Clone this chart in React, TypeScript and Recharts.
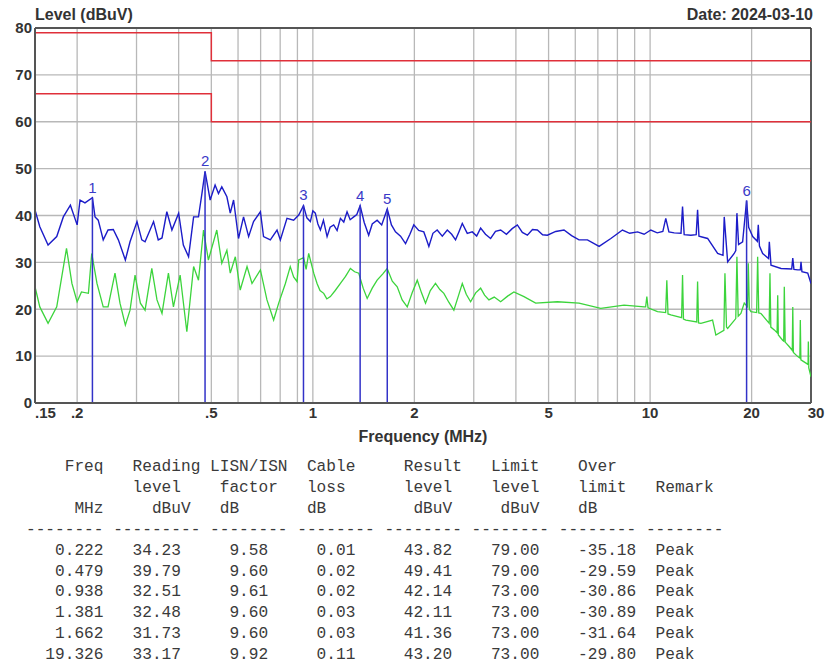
import React from "react";
import {
  CartesianGrid,
  ComposedChart,
  Line,
  ReferenceDot,
  ReferenceLine,
  XAxis,
  YAxis,
} from "recharts";

const SANS = '"Liberation Sans", Arial, sans-serif';
const MONO = '"Liberation Mono", "Courier New", monospace';

// axis setup
const xTicks = [0.15, 0.2, 0.5, 1, 2, 5, 10, 20, 30];
const xTickLabels = [".15", ".2", ".5", "1", "2", "5", "10", "20", "30"];
const gridFreqs = [0.2, 0.3, 0.4, 0.5, 0.6, 0.7, 0.8, 0.9, 1, 2, 3, 4, 5, 6, 7, 8, 9, 10, 20];
const yTicks = [0, 10, 20, 30, 40, 50, 60, 70, 80];

// limit lines (QP / AV)
const limitFreq = [0.15, 0.5, 0.5, 30];
const limitQp = [79, 79, 73, 73];
const limitAv = [66, 66, 60, 60];

// peak detector scan [MHz, dBuV]
const peakScan: [number, number][] = [
  [0.15, 41.2], [0.155, 37.6], [0.164, 33.7], [0.174, 35.5], [0.182, 39.7], [0.191, 42.2],
  [0.2, 38.0], [0.204, 43.3], [0.211, 42.7], [0.222, 43.8], [0.226, 39.7], [0.231, 39.0],
  [0.239, 34.8], [0.247, 36.9], [0.256, 37.0], [0.265, 34.8], [0.278, 30.5], [0.287, 34.4],
  [0.301, 38.7], [0.311, 34.8], [0.318, 34.4], [0.329, 36.9], [0.337, 38.7], [0.348, 34.8],
  [0.357, 35.2], [0.369, 40.8], [0.382, 36.9], [0.4, 40.5], [0.413, 33.7], [0.428, 31.2],
  [0.443, 39.7], [0.458, 39.7], [0.469, 44.7], [0.479, 49.4], [0.496, 43.3], [0.513, 46.5],
  [0.525, 44.7], [0.537, 46.1], [0.556, 44.0], [0.569, 40.5], [0.582, 43.3], [0.602, 35.1],
  [0.623, 39.7], [0.645, 35.5], [0.667, 38.7], [0.699, 40.8], [0.714, 35.5], [0.748, 34.8],
  [0.783, 36.9], [0.801, 34.8], [0.838, 39.4], [0.877, 39.0], [0.908, 40.1], [0.938, 42.1],
  [0.96, 39.5], [0.983, 38.7], [1.0, 41.0], [1.017, 40.5], [1.035, 38.2], [1.053, 36.9],
  [1.075, 39.0], [1.102, 35.5], [1.125, 37.5], [1.153, 38.0], [1.18, 36.8], [1.207, 39.4],
  [1.235, 38.6], [1.263, 40.8], [1.29, 39.1], [1.322, 39.7], [1.35, 40.2], [1.381, 42.1],
  [1.42, 38.5], [1.464, 35.8], [1.5, 38.2], [1.551, 39.0], [1.6, 38.0], [1.662, 41.4],
  [1.71, 38.0], [1.758, 36.5], [1.82, 35.6], [1.883, 34.0], [1.94, 36.0], [1.992, 38.0],
  [2.06, 36.8], [2.133, 36.5], [2.17, 35.0], [2.208, 33.4], [2.27, 36.2], [2.337, 36.9],
  [2.42, 35.6], [2.504, 36.9], [2.58, 36.0], [2.649, 34.8], [2.71, 36.5], [2.774, 38.3],
  [2.87, 36.2], [2.97, 36.5], [3.06, 35.6], [3.144, 37.3], [3.25, 36.0], [3.366, 35.1],
  [3.48, 36.6], [3.605, 36.9], [3.75, 36.0], [3.9, 37.2], [4.04, 38.0], [4.18, 36.4],
  [4.326, 35.8], [4.48, 37.0], [4.632, 36.9], [4.8, 35.9], [4.959, 35.8], [5.25, 36.6],
  [5.555, 36.9], [5.85, 35.7], [6.155, 34.8], [6.52, 34.8], [7.06, 33.4], [7.65, 35.1],
  [8.28, 36.9], [8.7, 36.2], [9.18, 36.5], [9.6, 36.0], [10.05, 36.9], [10.5, 36.3],
  [10.91, 36.6], [11.13, 39.4], [11.37, 36.5], [11.79, 36.3], [12.35, 36.2],
  [12.48, 41.9], [12.62, 35.9], [13.21, 35.8], [13.7, 35.9], [13.83, 41.2], [13.96, 35.6],
  [14.81, 35.1], [15.86, 31.9], [16.45, 31.5], [16.59, 39.7], [16.98, 30.1], [17.76, 31.9],
  [17.95, 32.5], [18.09, 40.5], [18.3, 33.8], [18.81, 34.4], [19.326, 43.2], [19.6, 37.5],
  [20.15, 35.5], [20.8, 34.5], [20.93, 38.0], [21.1, 33.5], [21.57, 31.9], [22.45, 30.8],
  [22.57, 34.4], [22.83, 29.4], [24.45, 28.7], [26.3, 28.6], [26.49, 30.9], [26.7, 28.5],
  [27.41, 28.4], [27.9, 28.4], [28.02, 30.1], [28.2, 28.0], [29.34, 27.7], [30, 25.5],
];

// average detector scan [MHz, dBuV]
const avgScan: [number, number][] = [
  [0.15, 24.8], [0.155, 20.5], [0.164, 17.0], [0.174, 20.5], [0.186, 33.0], [0.193, 25.5],
  [0.2, 21.6], [0.206, 23.7], [0.216, 23.4], [0.221, 31.9], [0.229, 25.5], [0.239, 20.5],
  [0.247, 20.5], [0.259, 27.7], [0.268, 21.3], [0.278, 16.6], [0.287, 19.8], [0.297, 27.3],
  [0.308, 21.3], [0.318, 19.8], [0.333, 28.7], [0.345, 22.0], [0.357, 19.1], [0.373, 27.7],
  [0.386, 20.5], [0.404, 27.3], [0.423, 15.2], [0.443, 29.1], [0.458, 26.2], [0.474, 36.9],
  [0.49, 30.5], [0.519, 36.9], [0.537, 29.8], [0.556, 32.6], [0.569, 27.7], [0.589, 31.2],
  [0.609, 24.1], [0.638, 29.1], [0.66, 25.5], [0.699, 28.4], [0.731, 22.0], [0.765, 17.7],
  [0.792, 21.3], [0.829, 25.5], [0.857, 29.1], [0.877, 26.9], [0.898, 25.9], [0.908, 30.5],
  [0.939, 31.0], [0.955, 28.5], [0.972, 31.9], [1.006, 27.7], [1.029, 25.5], [1.05, 24.0],
  [1.077, 23.4], [1.1, 22.2], [1.127, 22.7], [1.165, 24.0], [1.207, 25.5], [1.25, 27.0],
  [1.292, 28.7], [1.33, 28.0], [1.368, 27.7], [1.41, 24.5], [1.449, 22.3], [1.5, 24.5],
  [1.551, 26.2], [1.61, 27.5], [1.661, 28.7], [1.72, 26.0], [1.779, 24.8], [1.84, 22.0],
  [1.905, 20.5], [1.97, 23.5], [2.04, 26.2], [2.1, 23.5], [2.158, 21.3], [2.23, 24.0],
  [2.31, 25.5], [2.38, 24.2], [2.446, 23.4], [2.53, 21.5], [2.619, 19.8], [2.7, 22.8],
  [2.774, 25.5], [2.85, 23.2], [2.936, 21.6], [3.04, 23.5], [3.144, 24.5], [3.23, 23.0],
  [3.327, 22.0], [3.45, 22.6], [3.605, 21.6], [3.78, 22.8], [3.946, 23.7], [4.227, 22.7],
  [4.578, 21.3], [5.31, 21.6], [6.155, 21.3], [7.14, 20.2],
  [8.37, 20.9], [9.6, 20.5], [9.7, 20.5], [9.78, 22.7], [9.86, 20.3], [10.52, 19.5],
  [11.12, 19.3], [11.21, 26.2], [11.3, 19.0], [11.52, 18.8], [12.4, 18.2], [12.48, 27.3],
  [12.56, 17.9], [12.77, 17.7], [13.75, 17.3], [13.83, 25.9], [13.92, 17.1], [14.15, 17.0],
  [15.32, 17.7], [15.67, 14.5], [16.55, 15.5], [16.67, 27.7], [16.85, 16.2], [16.98, 15.9],
  [17.95, 18.0], [18.09, 31.2], [18.25, 18.5], [18.59, 19.1], [19.02, 21.3], [19.45, 20.5],
  [19.55, 29.8], [19.7, 20.0], [19.91, 19.5], [20.7, 19.3], [20.84, 31.2], [21.0, 19.2],
  [21.32, 19.1], [22.55, 17.0], [22.67, 27.7], [22.8, 16.2], [23.35, 15.6], [23.8, 15.0],
  [23.9, 23.0], [24.0, 14.5], [24.72, 13.4], [24.9, 13.2], [25.0, 24.8], [25.15, 13.0],
  [25.88, 12.0], [26.4, 11.2], [26.49, 20.5], [26.6, 10.8], [27.41, 9.9], [27.8, 9.6],
  [27.89, 17.7], [28.0, 9.2], [29.0, 8.5], [29.4, 8.2], [29.46, 13.1], [29.55, 7.5],
  [30, 5.6],
];

// marker table
const markFreq = ["0.222", "0.479", "0.938", "1.381", "1.662", "19.326"];
const markReading = ["34.23", "39.79", "32.51", "32.48", "31.73", "33.17"];
const markLisn = ["9.58", "9.60", "9.61", "9.60", "9.60", "9.92"];
const markCable = ["0.01", "0.02", "0.02", "0.03", "0.03", "0.11"];
const markResult = ["43.82", "49.41", "42.14", "42.11", "41.36", "43.20"];
const markLimit = ["79.00", "79.00", "73.00", "73.00", "73.00", "73.00"];
const markOver = ["-35.18", "-29.59", "-30.86", "-30.89", "-31.64", "-29.80"];
const markRemark = ["Peak", "Peak", "Peak", "Peak", "Peak", "Peak"];

const toPoints = (pts: [number, number][]) => pts.map(([f, v]) => ({ f, v }));
const qpData = limitFreq.map((f, i) => ({ f, v: limitQp[i] }));
const avData = limitFreq.map((f, i) => ({ f, v: limitAv[i] }));
const peakData = toPoints(peakScan);
const avgData = toPoints(avgScan);

// place strings at fixed monospace columns
function place(items: [number, string][]) {
  let s = "";
  for (const [col, text] of items) {
    s = s.padEnd(col, " ") + text;
  }
  return s;
}

const tableLines = [
  place([[4, "Freq"], [11, "Reading"], [19, "LISN/ISN"], [29, "Cable"], [39, "Result"], [48, "Limit"], [57, "Over"]]),
  place([[11, "level"], [20, "factor"], [29, "loss"], [39, "level"], [48, "level"], [57, "limit"], [65, "Remark"]]),
  place([[5, "MHz"], [13, "dBuV"], [20, "dB"], [29, "dB"], [40, "dBuV"], [49, "dBuV"], [57, "dB"]]),
  "-------- --------- -------- -------- -------- -------- -------- --------",
  ...markFreq.map((f, i) =>
    place([
      [0, f.padStart(8, " ")],
      [11, markReading[i]],
      [21, markLisn[i]],
      [30, markCable[i]],
      [39, markResult[i]],
      [48, markLimit[i]],
      [57, markOver[i]],
      [65, markRemark[i]],
    ])
  ),
];

const XTick = (props: any) => {
  const { x, y, payload, index } = props;
  const i = xTicks.indexOf(payload.value);
  const label = i >= 0 ? xTickLabels[i] : String(payload.value);
  const first = index === 0;
  const last = i === xTicks.length - 1;
  return (
    <text
      x={x}
      y={y}
      dy="0.71em"
      dx={last ? 5 : 0}
      textAnchor={first ? "start" : "middle"}
      fill="#333"
      fontSize={15}
      fontWeight="bold"
      fontFamily={SANS}
    >
      {label}
    </text>
  );
};

const titleStyle: React.CSSProperties = {
  position: "absolute",
  fontFamily: SANS,
  fontWeight: "bold",
  fontSize: 16,
  lineHeight: "16px",
  color: "#333",
  whiteSpace: "nowrap",
};

export default function App() {
  return (
    <div
      style={{
        position: "absolute",
        left: 0,
        top: 0,
        width: 825,
        height: 667,
        background: "#fff",
        overflow: "hidden",
      }}
    >
      <div style={{ ...titleStyle, left: 35, top: 7 }}>Level (dBuV)</div>
      <div style={{ ...titleStyle, right: 12, top: 7 }}>Date: 2024-03-10</div>
      <div style={{ ...titleStyle, left: 0, width: 846, textAlign: "center", top: 429 }}>
        Frequency (MHz)
      </div>

      <ComposedChart
        width={825}
        height={450}
        margin={{ top: 28, right: 14, bottom: 17, left: 5 }}
        style={{ position: "absolute", left: 0, top: 0 }}
      >
        {/* hidden axis that only carries the grid positions */}
        <XAxis
          xAxisId="grid"
          dataKey="f"
          type="number"
          scale="log"
          domain={[0.15, 30]}
          allowDataOverflow
          ticks={gridFreqs}
          interval={0}
          hide
        />
        <CartesianGrid xAxisId="grid" stroke="#b8b8b8" strokeWidth={1.3} />
        <XAxis
          dataKey="f"
          type="number"
          scale="log"
          domain={[0.15, 30]}
          allowDataOverflow
          ticks={xTicks}
          interval={0}
          height={30}
          tickSize={0}
          tickMargin={4}
          tick={<XTick />}
          axisLine={{ stroke: "#555", strokeWidth: 2 }}
          tickLine={false}
        />
        <YAxis
          type="number"
          domain={[0, 80]}
          ticks={yTicks}
          interval={0}
          width={30}
          tickSize={0}
          tickMargin={3}
          tick={{ fill: "#333", fontSize: 15, fontWeight: "bold", fontFamily: SANS }}
          axisLine={{ stroke: "#555", strokeWidth: 2 }}
          tickLine={false}
        />

        <ReferenceLine y={80} stroke="#555" strokeWidth={2} />
        <ReferenceLine x={30} stroke="#333" strokeWidth={1.5} />

        <Line data={qpData} dataKey="v" type="linear" stroke="#e0303a" strokeWidth={1.5} dot={false} isAnimationActive={false} />
        <Line data={avData} dataKey="v" type="linear" stroke="#e0303a" strokeWidth={1.5} dot={false} isAnimationActive={false} />
        <Line data={avgData} dataKey="v" type="linear" stroke="#3cd43c" strokeWidth={1.3} dot={false} isAnimationActive={false} />
        <Line data={peakData} dataKey="v" type="linear" stroke="#1c1cc8" strokeWidth={1.4} dot={false} isAnimationActive={false} />

        {markFreq.map((f, i) => (
          <ReferenceLine
            key={`m${i}`}
            segment={[
              { x: Number(f), y: 0 },
              { x: Number(f), y: Number(markResult[i]) },
            ]}
            stroke="#3232c8"
            strokeWidth={1.5}
          />
        ))}
        {markFreq.map((f, i) => (
          <ReferenceDot
            key={`d${i}`}
            x={Number(f)}
            y={Number(markResult[i])}
            r={0}
            stroke="none"
            fill="none"
            label={{
              value: String(i + 1),
              position: "top",
              offset: 5,
              fill: "#3a3ac8",
              fontSize: 15,
              fontFamily: SANS,
            }}
          />
        ))}
      </ComposedChart>

      <pre
        style={{
          position: "absolute",
          left: 26,
          top: 457,
          margin: 0,
          fontFamily: MONO,
          fontSize: 16.15,
          lineHeight: "20.9px",
          color: "#3a3a3a",
        }}
      >
        {tableLines.join("\n")}
      </pre>
    </div>
  );
}
